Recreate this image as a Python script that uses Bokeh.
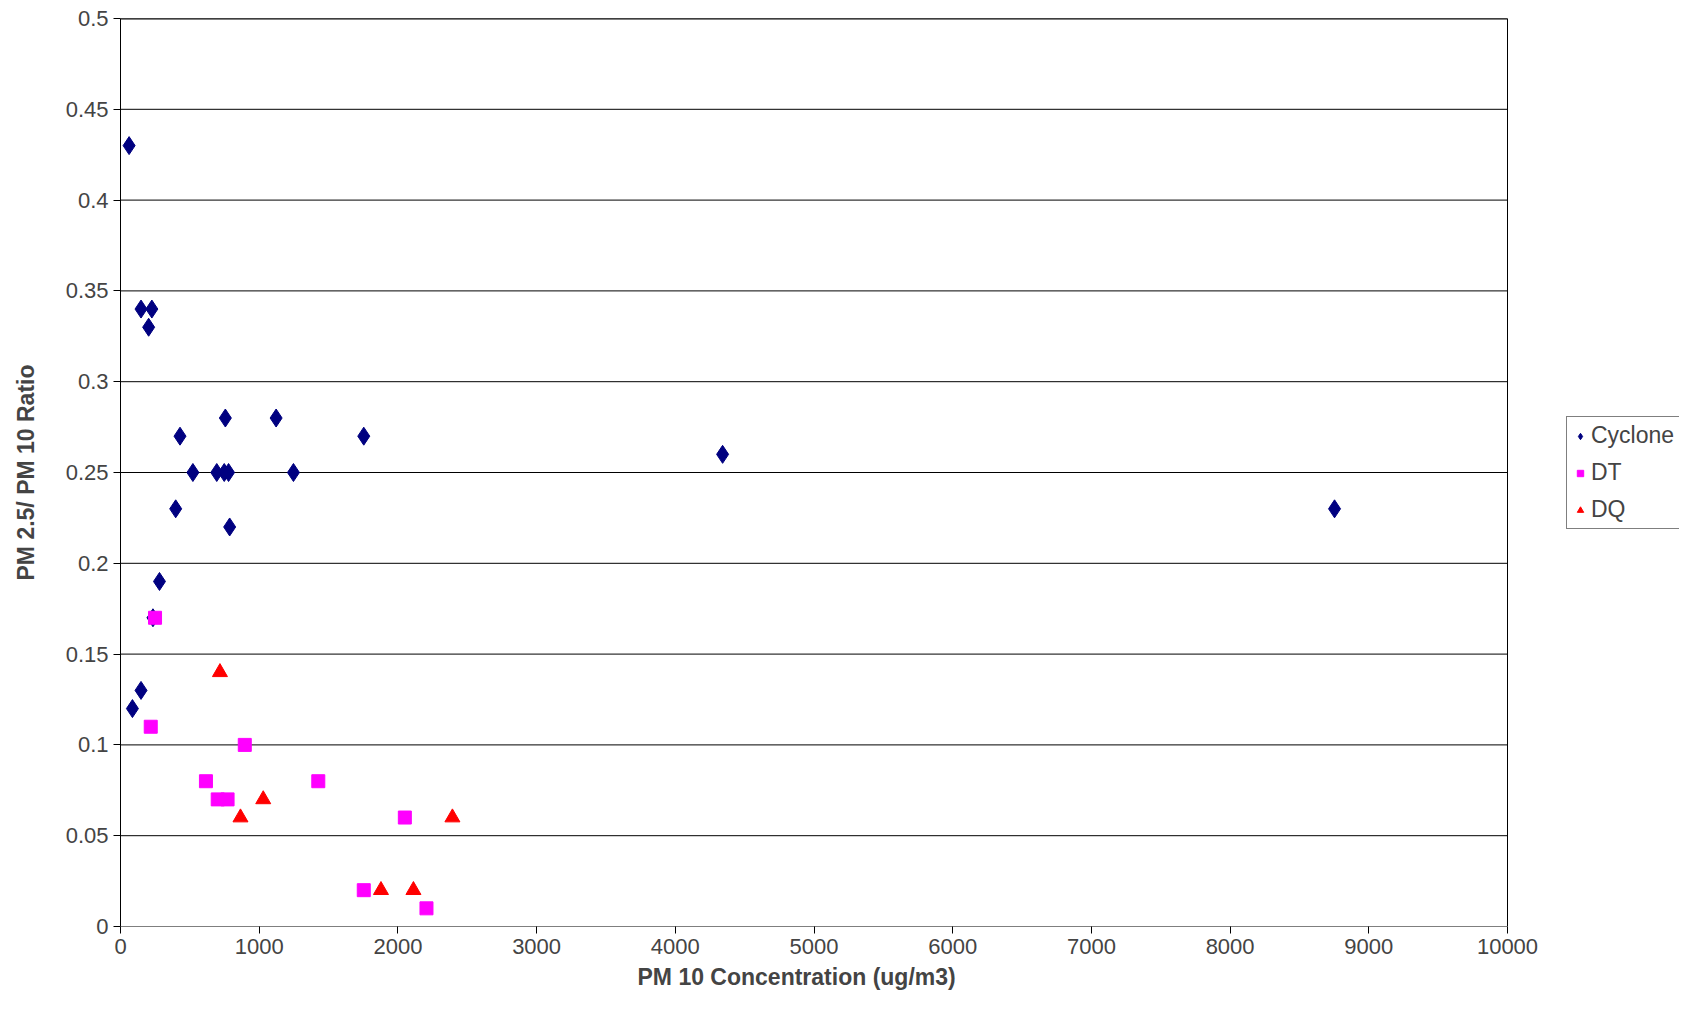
from bokeh.plotting import figure
from bokeh.models import Legend, LegendItem, FixedTicker, Title
from bokeh.embed import file_html
from bokeh.resources import INLINE

cyc_x = [62,148,226,203,429,756,1122,1754,522,694,748,779,1247,398,787,281,234,148,86,4341,8753]
cyc_y = [0.43,0.34,0.34,0.33,0.27,0.28,0.28,0.27,0.25,0.25,0.25,0.25,0.25,0.23,0.22,0.19,0.17,0.13,0.12,0.26,0.23]
dt_x = [249,218,896,616,1426,701,772,2050,1754,2206]
dt_y = [0.17,0.11,0.10,0.08,0.08,0.07,0.07,0.06,0.02,0.01]
dq_x = [717,1029,865,2393,1878,2112]
dq_y = [0.14,0.07,0.06,0.06,0.02,0.02]
x_ticks = list(range(0, 10001, 1000))
y_ticks = [round(i*0.05, 2) for i in range(11)]
X_MAX = 10000

F = "Liberation Sans"
x_end = X_MAX * 1559 / 1387
p = figure(width=1679, height=1010, x_range=(0, x_end), y_range=(0, 0.5),
           output_backend="svg", toolbar_location=None,
           min_border_left=120, min_border_top=18, min_border_bottom=84, min_border_right=0)
p.outline_line_color=None
p.xgrid.grid_line_color=None
p.ygrid.grid_line_color=None
p.segment(x0=[0]*len(y_ticks), x1=[X_MAX]*len(y_ticks), y0=y_ticks, y1=y_ticks, line_color="black", line_width=1)
p.segment(x0=[X_MAX], x1=[X_MAX], y0=[0], y1=[0.5], line_color="black", line_width=1)
p.segment(x0=[0], x1=[X_MAX], y0=[0.5], y1=[0.5], line_color="black", line_width=2)
p.xaxis.axis_line_color=None
p.xaxis.ticker=FixedTicker(ticks=x_ticks)
p.yaxis.ticker=FixedTicker(ticks=y_ticks)
p.yaxis.major_label_overrides={t:("0" if t==0 else "%g"%t) for t in y_ticks}
for ax in (p.xaxis[0], p.yaxis[0]):
    ax.major_label_text_font=F; ax.major_label_text_font_size="22px"
    ax.axis_label_text_font=F; ax.axis_label_text_font_size="23px"
    ax.axis_label_text_font_style="bold"
    ax.minor_tick_line_color=None
    ax.major_tick_in=0; ax.major_tick_out=7
p.yaxis.axis_label="PM 2.5/ PM 10 Ratio"
p.yaxis.axis_label_standoff=24
xt = Title(text="PM 10 Concentration (ug/m3)", align="left", offset=517,
           text_font=F, text_font_size="23px", text_font_style="bold", standoff=10)
p.add_layout(xt, "below")
r1=p.scatter(cyc_x,cyc_y,marker="diamond",size=18,color="#000080")
r2=p.scatter(dt_x,dt_y,marker="square",size=13,color="#FF00FF")
r3=p.scatter(dq_x,dq_y,marker="triangle",size=15,color="#FF0000")
leg=Legend(items=[LegendItem(label="Cyclone",renderers=[r1]),LegendItem(label="DT",renderers=[r2]),LegendItem(label="DQ",renderers=[r3])],
           location=(1446,397), label_text_font=F, label_text_font_size="23px",
           border_line_color="black", spacing=10, padding=5, glyph_width=16, label_standoff=3, margin=0)
p.add_layout(leg)
open("out.html","w").write(file_html(p,INLINE))
